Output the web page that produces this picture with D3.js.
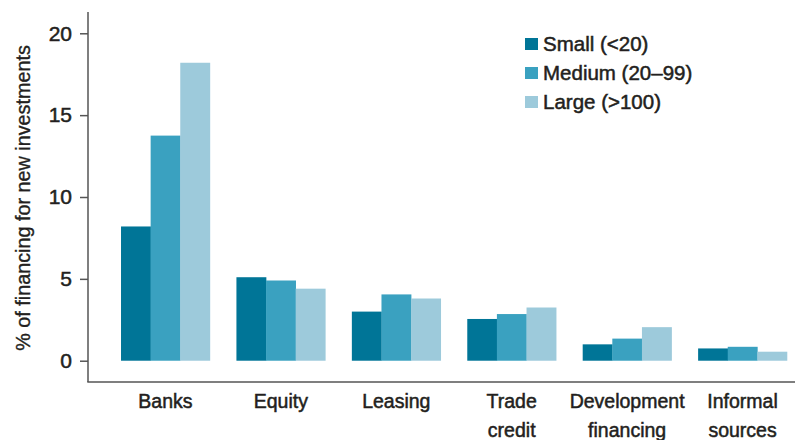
<!DOCTYPE html>
<html>
<head>
<meta charset="utf-8">
<script src="https://cdn.jsdelivr.net/npm/d3@7"></script>
<style>
  body { margin: 0; background: #fff; }
  text { font-family: "Liberation Sans", Arial, sans-serif; fill: #231f20; }
  .bold { stroke: #231f20; stroke-width: 0.5px; }
</style>
</head>
<body>
<script>
// données
const categories = ["Banks", "Equity", "Leasing", "Trade credit", "Development financing", "Informal sources"];
const catLines = [["Banks"], ["Equity"], ["Leasing"], ["Trade", "credit"], ["Development", "financing"], ["Informal", "sources"]];
const seriesNames = ["Small (<20)", "Medium (20–99)", "Large (>100)"];
const small = [8.2, 5.1, 3.0, 2.55, 1.0, 0.75];
const medium = [13.75, 4.9, 4.05, 2.85, 1.35, 0.85];
const large = [18.2, 4.4, 3.8, 3.25, 2.05, 0.55];
const yTicks = [0, 5, 10, 15, 20];
const colors = ["#007597", "#3aa1c0", "#9dcadb"];

const width = 795, height = 440;
const svg = d3.select("body").append("svg").attr("width", width).attr("height", height);

const values = [small, medium, large];

// échelles
const x = d3.scaleBand().domain(categories).range([88, 820]).paddingInner(0.23).paddingOuter(0.286);
const xs = d3.scaleBand().domain(seriesNames).range([0, x.bandwidth()]);
const y = d3.scaleLinear().domain([-1.3, 21.3]).range([382, 12]);

// barres
categories.forEach((c, i) => {
  svg.append("g").selectAll("rect")
    .data(seriesNames)
    .join("rect")
    .attr("x", s => x(c) + xs(s))
    .attr("width", xs.bandwidth() + 0.3)
    .attr("y", (s, j) => y(values[j][i]))
    .attr("height", (s, j) => y(0) - y(values[j][i]))
    .attr("fill", (s, j) => colors[j]);
});

// axe y
const yAxis = svg.append("g")
  .attr("transform", "translate(88,0)")
  .call(d3.axisLeft(y).tickValues(yTicks).tickSize(8).tickPadding(8).tickSizeOuter(0));
yAxis.select(".domain").remove();
yAxis.selectAll(".tick line").attr("stroke", "#555").attr("stroke-width", 1.5);
yAxis.selectAll(".tick text")
  .attr("class", "bold")
  .style("font-size", "21px")
  .style("font-family", "'Liberation Sans', Arial, sans-serif")
  .attr("fill", "#231f20");

svg.append("line").attr("x1", 88).attr("x2", 88).attr("y1", 12).attr("y2", 382)
  .attr("stroke", "#555").attr("stroke-width", 1.5);
svg.append("line").attr("x1", 87.3).attr("x2", width).attr("y1", 382).attr("y2", 382)
  .attr("stroke", "#555").attr("stroke-width", 1.5);

// libellés catégories
categories.forEach((c, i) => {
  const t = svg.append("text")
    .attr("class", "bold")
    .attr("x", x(c) + x.bandwidth() / 2)
    .attr("y", 408)
    .attr("text-anchor", "middle")
    .style("font-size", "19.5px");
  catLines[i].forEach((l, k) => {
    t.append("tspan").attr("x", x(c) + x.bandwidth() / 2).attr("dy", k === 0 ? 0 : 29).text(l);
  });
});

// titre axe y
svg.append("text")
  .attr("class", "bold")
  .attr("transform", "translate(30,198) rotate(-90)")
  .attr("text-anchor", "middle")
  .style("font-size", "19.8px")
  .style("stroke-width", "0.35px")
  .text("% of financing for new investments");

// légende
const legend = svg.append("g").attr("transform", "translate(525,38)");
seriesNames.forEach((s, i) => {
  legend.append("rect").attr("x", 0).attr("y", i * 29).attr("width", 13).attr("height", 12).attr("fill", colors[i]);
  legend.append("text").attr("class", "bold").attr("x", 18).attr("y", i * 29 + 13).style("font-size", "20.5px").text(s);
});
</script>
</body>
</html>
